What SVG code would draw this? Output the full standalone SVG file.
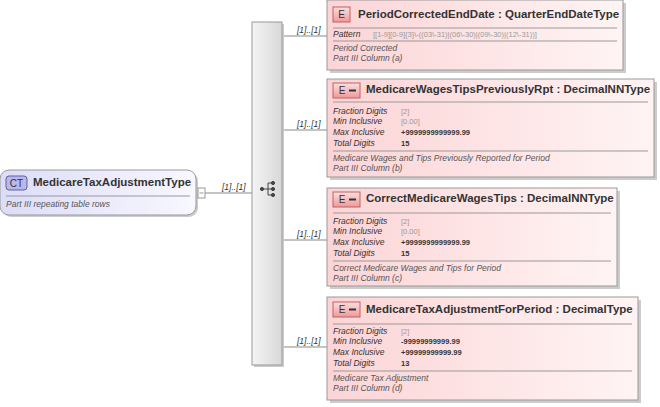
<svg xmlns="http://www.w3.org/2000/svg" width="660" height="407" viewBox="0 0 660 407">
<defs>
<linearGradient id="eg" x1="0" y1="0" x2="1" y2="0"><stop offset="0" stop-color="#fcd4d6"/><stop offset="1" stop-color="#fff4f4"/></linearGradient>
<linearGradient id="cg" x1="0" y1="0" x2="1" y2="0"><stop offset="0" stop-color="#dcdcf8"/><stop offset="1" stop-color="#f8f8ff"/></linearGradient>
<linearGradient id="sg" x1="0" y1="0" x2="1" y2="0"><stop offset="0" stop-color="#f4f4f4"/><stop offset="1" stop-color="#d8d8d8"/></linearGradient>
<linearGradient id="bg" x1="0" y1="0" x2="0" y2="1"><stop offset="0" stop-color="#fbe0e0"/><stop offset="1" stop-color="#f09898"/></linearGradient>
</defs>
<style>
text{font-family:"Liberation Sans",Arial,sans-serif}
.box{fill:url(#eg);stroke:#999;stroke-width:1}
.sh{fill:#ccc}
.t{font-size:11.5px;font-weight:bold;fill:#333}
.k{font-size:8.5px;font-style:italic;fill:#333}
.g{font-size:7.5px;fill:#999}
.v{font-size:7.5px;font-weight:bold;fill:#333}
.d{font-size:8.5px;font-style:italic;fill:#555}
.sep{stroke:#999;stroke-width:1}
.badge{fill:url(#bg);stroke:#c06060}
.bt{font-size:10px;fill:#333}
.c{stroke:#888;stroke-width:1;fill:none}
.m{font-size:8.5px;font-style:italic;fill:#333}
</style>
<g id="connectors">
<line class="c" x1="205" y1="193" x2="252" y2="193"/>
<text class="m" x="222" y="190">[1]..[1]</text>
<line class="c" x1="282" y1="36" x2="327" y2="36"/><text class="m" x="297" y="33">[1]..[1]</text>
<line class="c" x1="282" y1="130" x2="327" y2="130"/><text class="m" x="297" y="127">[1]..[1]</text>
<line class="c" x1="282" y1="240" x2="327" y2="240"/><text class="m" x="297" y="237">[1]..[1]</text>
<line class="c" x1="282" y1="347" x2="327" y2="347"/><text class="m" x="297" y="344">[1]..[1]</text>
</g>
<g id="ct">
<rect x="2" y="172" width="196" height="45" rx="9" class="sh"/>
<rect x="0" y="170" width="196" height="45" rx="9" fill="url(#cg)" stroke="#999"/>
<rect x="6" y="176" width="21" height="14" rx="3" fill="#b8b8ec" stroke="#6060a0"/>
<text x="16.5" y="187" text-anchor="middle" style="font-size:10px;fill:#333">CT</text>
<text class="t" x="33" y="186">MedicareTaxAdjustmentType</text>
<line class="sep" x1="6" y1="196" x2="190" y2="196"/>
<text class="d" x="6" y="207">Part III repeating table rows</text>
<rect x="198" y="188" width="7" height="10" fill="#fff" stroke="#999"/>
<line x1="199.5" y1="193" x2="203.5" y2="193" stroke="#999"/>
</g>
<g id="seq">
<rect x="254" y="24" width="30" height="343" class="sh"/>
<rect x="252" y="22" width="30" height="343" fill="url(#sg)" stroke="#999"/>
<g fill="#444" stroke="#444">
<circle cx="262" cy="189" r="1.6"/><line x1="262" y1="189" x2="268" y2="189"/>
<line x1="268" y1="183" x2="268" y2="195"/>
<line x1="268" y1="183" x2="273" y2="183"/><line x1="268" y1="189" x2="273" y2="189"/><line x1="268" y1="195" x2="273" y2="195"/>
<circle cx="273" cy="183" r="1.6"/><circle cx="273" cy="189" r="1.6"/><circle cx="273" cy="195" r="1.6"/>
</g>
</g>
<g id="e1">
<rect x="330" y="3" width="296" height="70" class="sh"/>
<rect x="327" y="0" width="296" height="70" class="box"/>
<rect x="333" y="7" width="17" height="15" class="badge"/><text class="bt" x="341.5" y="18" text-anchor="middle">E</text>
<text class="t" x="358" y="18">PeriodCorrectedEndDate : QuarterEndDateType</text>
<line class="sep" x1="333" y1="28" x2="617" y2="28"/>
<text class="k" x="333" y="37">Pattern</text>
<text class="g" x="373" y="37">[[1-9][0-9]{3}\-((03\-31)|(06\-30)|(09\-30)|(12\-31))]</text>
<line class="sep" x1="333" y1="41" x2="617" y2="41"/>
<text class="d" x="333" y="51">Period Corrected</text>
<text class="d" x="333" y="61">Part III Column (a)</text>
</g>
<g id="e2">
<rect x="330" y="82" width="327" height="98" class="sh"/>
<rect x="327" y="79" width="327" height="98" class="box"/>
<rect x="333" y="83" width="27" height="15" class="badge"/><text class="bt" x="342" y="94" text-anchor="middle">E</text><line x1="349" y1="90.5" x2="356" y2="90.5" stroke="#333" stroke-width="2"/>
<text class="t" x="366" y="93">MedicareWagesTipsPreviouslyRpt : DecimalNNType</text>
<line class="sep" x1="333" y1="102" x2="648" y2="102"/>
<text class="k" x="333" y="114">Fraction Digits</text><text class="g" x="401" y="114">[2]</text>
<text class="k" x="333" y="124">Min Inclusive</text><text class="g" x="401" y="124">[0.00]</text>
<text class="k" x="333" y="135">Max Inclusive</text><text class="v" x="401" y="135">+9999999999999.99</text>
<text class="k" x="333" y="146">Total Digits</text><text class="v" x="401" y="146">15</text>
<line class="sep" x1="333" y1="151" x2="648" y2="151"/>
<text class="d" x="333" y="161">Medicare Wages and Tips Previously Reported for Period</text>
<text class="d" x="333" y="171">Part III Column (b)</text>
</g>
<g id="e3">
<rect x="330" y="191" width="290" height="98" class="sh"/>
<rect x="327" y="188" width="290" height="98" class="box"/>
<rect x="333" y="192" width="27" height="15" class="badge"/><text class="bt" x="342" y="203" text-anchor="middle">E</text><line x1="349" y1="199.5" x2="356" y2="199.5" stroke="#333" stroke-width="2"/>
<text class="t" x="366" y="202">CorrectMedicareWagesTips : DecimalNNType</text>
<line class="sep" x1="333" y1="213" x2="611" y2="213"/>
<text class="k" x="333" y="224">Fraction Digits</text><text class="g" x="401" y="224">[2]</text>
<text class="k" x="333" y="234">Min Inclusive</text><text class="g" x="401" y="234">[0.00]</text>
<text class="k" x="333" y="245">Max Inclusive</text><text class="v" x="401" y="245">+9999999999999.99</text>
<text class="k" x="333" y="256">Total Digits</text><text class="v" x="401" y="256">15</text>
<line class="sep" x1="333" y1="261" x2="611" y2="261"/>
<text class="d" x="333" y="271">Correct Medicare Wages and Tips for Period</text>
<text class="d" x="333" y="281">Part III Column (c)</text>
</g>
<g id="e4">
<rect x="330" y="300" width="311" height="103" class="sh"/>
<rect x="327" y="297" width="311" height="103" class="box"/>
<rect x="333" y="302" width="27" height="15" class="badge"/><text class="bt" x="342" y="313" text-anchor="middle">E</text><line x1="349" y1="309.5" x2="356" y2="309.5" stroke="#333" stroke-width="2"/>
<text class="t" x="366" y="313">MedicareTaxAdjustmentForPeriod : DecimalType</text>
<line class="sep" x1="333" y1="324" x2="632" y2="324"/>
<text class="k" x="333" y="334">Fraction Digits</text><text class="g" x="401" y="334">[2]</text>
<text class="k" x="333" y="344">Min Inclusive</text><text class="v" x="401" y="344">-99999999999.99</text>
<text class="k" x="333" y="355">Max Inclusive</text><text class="v" x="401" y="355">+99999999999.99</text>
<text class="k" x="333" y="366">Total Digits</text><text class="v" x="401" y="366">13</text>
<line class="sep" x1="333" y1="371" x2="632" y2="371"/>
<text class="d" x="333" y="381">Medicare Tax Adjustment</text>
<text class="d" x="333" y="391">Part III Column (d)</text>
</g>
</svg>
